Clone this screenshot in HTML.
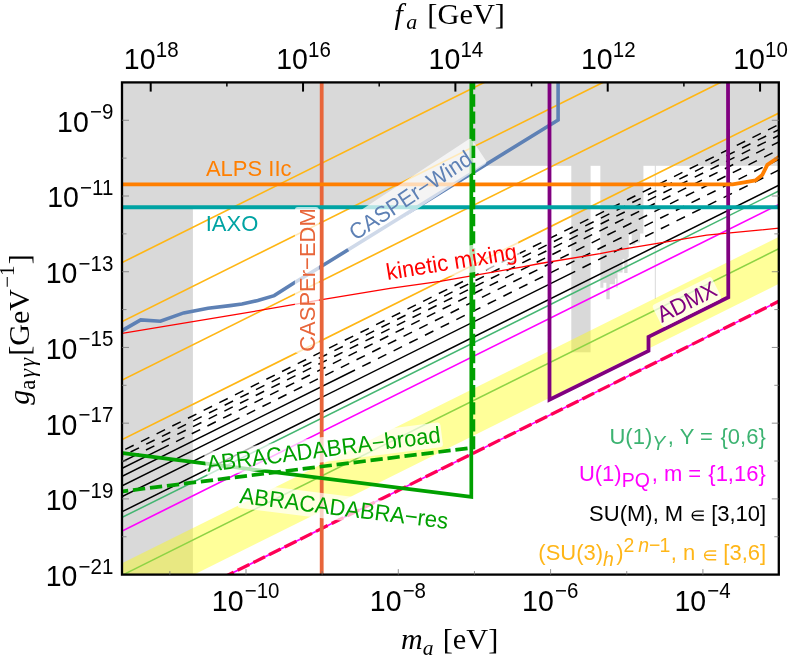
<!DOCTYPE html>
<html><head><meta charset="utf-8"><title>Axion parameter space</title>
<style>html,body{margin:0;padding:0;background:#fff}body{width:789px;height:659px;overflow:hidden;font-family:"Liberation Sans",sans-serif}</style>
</head><body>
<svg width="789" height="659" viewBox="0 0 789 659" style="display:block;will-change:transform" font-family="'Liberation Sans', sans-serif">
<rect x="0" y="0" width="789" height="659" fill="#fff"/>
<defs><clipPath id="cp"><rect x="122.0" y="82.4" width="656.8" height="492.20000000000005"/></clipPath></defs>
<g clip-path="url(#cp)">
<g fill="#d9d9d9" stroke="none">
<rect x="122.0" y="82.4" width="70.9" height="492.20000000000005"/>
<rect x="122.0" y="82.4" width="656.8" height="83.4"/>
<polygon points="192,160 192,207.3 417.1,207.3 484.2,165.8 484.2,160"/>
<rect x="571.3" y="160" width="19.300000000000068" height="192.3"/>
<polygon points="600.35,160 600.35,287.65 603.36,287.65 603.36,282.64 606.36,282.64 606.36,299.33 609.7,299.33 609.7,284.31 615.04,284.31 615.04,278.46 616.38,278.46 616.38,287.65 617.55,287.65 617.55,272.62 622.55,272.62 622.55,259.27 624.22,259.27 624.22,272.95 627.56,272.95 627.56,257.6 628.73,257.6 628.73,234.22 631.74,234.22 631.74,244.74 635.41,244.74 635.41,242.57 640.08,242.57 640.08,233.39 643.42,233.39 643.42,160"/>
<rect x="654.8" y="160" width="1" height="139"/>
</g>
<line x1="100" y1="528.39" x2="800" y2="180.35" stroke="#44b672" stroke-width="1.55"/>
<line x1="100" y1="586.19" x2="800" y2="238.15" stroke="#44b672" stroke-width="1.55"/>
<polygon points="100,574.29 800,226.25 800,273.35 100,621.39" fill="rgba(255,255,0,0.4)"/>
<line x1="100" y1="273.49" x2="800" y2="-74.55" stroke="#ffb614" stroke-width="1.65"/>
<line x1="100" y1="332.49" x2="800" y2="-15.55" stroke="#ffb614" stroke-width="1.65"/>
<line x1="100" y1="390.99" x2="800" y2="42.95" stroke="#ffb614" stroke-width="1.65"/>
<line x1="100" y1="450.59" x2="800" y2="102.55" stroke="#ffb614" stroke-width="1.65"/>
<line x1="125.26" y1="449.43" x2="800" y2="113.95" stroke="#000" stroke-width="1.5" stroke-dasharray="9.4 8.11"/>
<line x1="100" y1="467.19" x2="123.3" y2="455.60" stroke="#000" stroke-width="1.5"/>
<line x1="130.56" y1="451.99" x2="800" y2="119.15" stroke="#000" stroke-width="1.5" stroke-dasharray="9.4 8.11"/>
<line x1="100" y1="472.89" x2="138.7" y2="453.64" stroke="#000" stroke-width="1.5"/>
<line x1="145.96" y1="450.03" x2="800" y2="124.85" stroke="#000" stroke-width="1.5" stroke-dasharray="9.4 8.11"/>
<line x1="100" y1="479.39" x2="168.8" y2="445.18" stroke="#000" stroke-width="1.5"/>
<line x1="176.06" y1="441.57" x2="800" y2="131.35" stroke="#000" stroke-width="1.5" stroke-dasharray="9.4 8.11"/>
<line x1="100" y1="487.29" x2="239.5" y2="417.93" stroke="#000" stroke-width="1.5"/>
<line x1="246.76" y1="414.32" x2="800" y2="139.25" stroke="#000" stroke-width="1.5" stroke-dasharray="9.4 8.11"/>
<line x1="100" y1="496.79" x2="355" y2="370.00" stroke="#000" stroke-width="1.5"/>
<line x1="362.26" y1="366.39" x2="800" y2="148.75" stroke="#000" stroke-width="1.5" stroke-dasharray="9.4 8.11"/>
<line x1="100" y1="507.59" x2="575.2" y2="271.32" stroke="#000" stroke-width="1.5"/>
<line x1="582.46" y1="267.71" x2="800" y2="159.55" stroke="#000" stroke-width="1.5" stroke-dasharray="9.4 8.11"/>
<line x1="100" y1="522.69" x2="800" y2="174.65" stroke="#000" stroke-width="1.5"/>
<line x1="100" y1="541.99" x2="800" y2="193.95" stroke="#ff00ff" stroke-width="1.65"/>
<line x1="100" y1="638.79" x2="800" y2="290.75" stroke="#ff00ff" stroke-width="1.65"/>
<line x1="222" y1="578.13" x2="800" y2="290.75" stroke="#ff0055" stroke-width="3.3" stroke-dasharray="13 4.5"/>
<polyline fill="none" stroke="#ff0000" stroke-width="1.3" stroke-linejoin="round" points="122,333.3 235,314.7 321.9,299.6 390,288.4 440,281.3 521.3,267.1 540,263.5 600,253.6 623,249.2 706.7,235.2 779,228.2"/>
<polyline fill="none" stroke="#5e81b5" stroke-width="3.6" stroke-linejoin="miter" points="120.5,331.6 122.5,330.4 140.7,319.9 160.4,321.2 183.7,312.9 208,308.2 230,305.6 242,304 257.8,300.5 274.2,295.6 293.5,283.2 321.9,266 558.1,120.0 558.1,70"/>
<polyline fill="none" stroke="#800080" stroke-width="3.8" stroke-linejoin="miter" points="549.5,70 549.5,399.7 648.5,350.9 648.5,336.9 728.3,297.3 728.0,70"/>
<line x1="321.7" y1="70" x2="321.7" y2="590" stroke="#e8653a" stroke-width="3.8"/>
<polyline fill="none" stroke="#ff7f00" stroke-width="3.8" stroke-linejoin="round" points="110,184.4 732.5,184.3 744.1,182.4 755.7,180.3 762.2,175.1 767.3,164.8 779.5,156.6"/>
<line x1="110" y1="207.2" x2="790" y2="207.2" stroke="#00a3a3" stroke-width="3.9"/>
<polyline fill="none" stroke="#00a000" stroke-width="3.7" stroke-linejoin="miter" points="110,451.5 122.9,453.2 471.3,496.8 471.3,70"/>
<g transform="translate(410.6,195.4) rotate(-33.4)"><rect x="-82.0" y="-15.0" width="164" height="30" rx="3" fill="rgba(255,255,255,0.7)"/><text transform="translate(0,7.6) scale(1,1.045)" x="0" y="0" text-anchor="middle" font-size="21.6" fill="#5e81b5">CASPEr−Wind</text></g>
<polyline fill="none" stroke="#00a000" stroke-width="3.7" stroke-linejoin="miter" stroke-dasharray="12.3 4.8" points="116,492.2 122.9,491.3 473.4,447.6 473.4,70"/>
</g>
<g clip-path="url(#cp)">
<g transform="translate(306.9,280) rotate(-90)"><rect x="-73.0" y="-12.0" width="146" height="24" rx="3" fill="rgba(255,255,255,0.7)"/><text transform="translate(0,7.6) scale(1,1.045)" x="0" y="0" text-anchor="middle" font-size="22.0" fill="#e8653a">CASPEr−EDM</text></g>
<g transform="translate(451.5,262) rotate(-9.2)"><rect x="-69.0" y="-13.5" width="138" height="27" rx="3" fill="rgba(255,255,255,0.7)"/><text transform="translate(0,7.6) scale(1,1.045)" x="0" y="0" text-anchor="middle" font-size="22.0" fill="#ff0000">kinetic mixing</text></g>
<g transform="translate(686.9,302) rotate(-26.4)"><rect x="-33.0" y="-12.5" width="66" height="25" rx="3" fill="rgba(255,255,255,0.7)"/><text transform="translate(0,7.6) scale(1,1.045)" x="0" y="0" text-anchor="middle" font-size="22.0" fill="#800080">ADMX</text></g>
<g transform="translate(323.6,449.5) rotate(-7.2)"><rect x="-119.0" y="-12.5" width="238" height="25" rx="3" fill="rgba(255,255,255,0.7)"/><text transform="translate(0,7.6) scale(1,1.045)" x="0" y="0" text-anchor="middle" font-size="22.0" fill="#00a000">ABRACADABRA−broad</text></g>
<g transform="translate(344,508.4) rotate(7.1)"><rect x="-106.0" y="-12.5" width="212" height="25" rx="3" fill="rgba(255,255,255,0.7)"/><text transform="translate(0,7.6) scale(1,1.045)" x="0" y="0" text-anchor="middle" font-size="22.0" fill="#00a000">ABRACADABRA−res</text></g>
</g>
<text transform="translate(205.9,175.5) scale(1,1.045)" x="0" y="0" font-size="22.0" fill="#ff7f00">ALPS IIc</text>
<text transform="translate(205.7,231.4) scale(1,1.045)" x="0" y="0" font-size="22.0" fill="#00a3a3">IAXO</text>
<rect x="122.0" y="82.4" width="656.8" height="492.20000000000005" fill="none" stroke="#000" stroke-width="2.3"/>
<line x1="150.70" y1="82.4" x2="150.70" y2="91.60000000000001" stroke="#000" stroke-width="2"/>
<line x1="226.87" y1="82.4" x2="226.87" y2="86.4" stroke="#000" stroke-width="1.5"/>
<line x1="303.04" y1="82.4" x2="303.04" y2="91.60000000000001" stroke="#000" stroke-width="2"/>
<line x1="379.21" y1="82.4" x2="379.21" y2="86.4" stroke="#000" stroke-width="1.5"/>
<line x1="455.38" y1="82.4" x2="455.38" y2="91.60000000000001" stroke="#000" stroke-width="2"/>
<line x1="531.55" y1="82.4" x2="531.55" y2="86.4" stroke="#000" stroke-width="1.5"/>
<line x1="607.72" y1="82.4" x2="607.72" y2="91.60000000000001" stroke="#000" stroke-width="2"/>
<line x1="683.89" y1="82.4" x2="683.89" y2="86.4" stroke="#000" stroke-width="1.5"/>
<line x1="760.06" y1="82.4" x2="760.06" y2="91.60000000000001" stroke="#000" stroke-width="2"/>
<line x1="169.85" y1="574.6" x2="169.85" y2="571.1" stroke="#777" stroke-width="0.8"/>
<line x1="246.00" y1="574.6" x2="246.00" y2="569.1" stroke="#777" stroke-width="0.8"/>
<line x1="322.15" y1="574.6" x2="322.15" y2="571.1" stroke="#777" stroke-width="0.8"/>
<line x1="398.30" y1="574.6" x2="398.30" y2="569.1" stroke="#777" stroke-width="0.8"/>
<line x1="474.45" y1="574.6" x2="474.45" y2="571.1" stroke="#777" stroke-width="0.8"/>
<line x1="550.60" y1="574.6" x2="550.60" y2="569.1" stroke="#777" stroke-width="0.8"/>
<line x1="626.75" y1="574.6" x2="626.75" y2="571.1" stroke="#777" stroke-width="0.8"/>
<line x1="702.90" y1="574.6" x2="702.90" y2="569.1" stroke="#777" stroke-width="0.8"/>
<line x1="122.0" y1="536.74" x2="126.5" y2="536.74" stroke="#777" stroke-width="0.8"/>
<line x1="778.8" y1="536.74" x2="774.3" y2="536.74" stroke="#777" stroke-width="0.8"/>
<line x1="122.0" y1="498.88" x2="129.0" y2="498.88" stroke="#777" stroke-width="0.8"/>
<line x1="778.8" y1="498.88" x2="771.8" y2="498.88" stroke="#777" stroke-width="0.8"/>
<line x1="122.0" y1="461.02" x2="126.5" y2="461.02" stroke="#777" stroke-width="0.8"/>
<line x1="778.8" y1="461.02" x2="774.3" y2="461.02" stroke="#777" stroke-width="0.8"/>
<line x1="122.0" y1="423.16" x2="129.0" y2="423.16" stroke="#777" stroke-width="0.8"/>
<line x1="778.8" y1="423.16" x2="771.8" y2="423.16" stroke="#777" stroke-width="0.8"/>
<line x1="122.0" y1="385.30" x2="126.5" y2="385.30" stroke="#777" stroke-width="0.8"/>
<line x1="778.8" y1="385.30" x2="774.3" y2="385.30" stroke="#777" stroke-width="0.8"/>
<line x1="122.0" y1="347.44" x2="129.0" y2="347.44" stroke="#777" stroke-width="0.8"/>
<line x1="778.8" y1="347.44" x2="771.8" y2="347.44" stroke="#777" stroke-width="0.8"/>
<line x1="122.0" y1="309.58" x2="126.5" y2="309.58" stroke="#777" stroke-width="0.8"/>
<line x1="778.8" y1="309.58" x2="774.3" y2="309.58" stroke="#777" stroke-width="0.8"/>
<line x1="122.0" y1="271.72" x2="129.0" y2="271.72" stroke="#777" stroke-width="0.8"/>
<line x1="778.8" y1="271.72" x2="771.8" y2="271.72" stroke="#777" stroke-width="0.8"/>
<line x1="122.0" y1="233.86" x2="126.5" y2="233.86" stroke="#777" stroke-width="0.8"/>
<line x1="778.8" y1="233.86" x2="774.3" y2="233.86" stroke="#777" stroke-width="0.8"/>
<line x1="122.0" y1="196.00" x2="129.0" y2="196.00" stroke="#777" stroke-width="0.8"/>
<line x1="778.8" y1="196.00" x2="771.8" y2="196.00" stroke="#777" stroke-width="0.8"/>
<line x1="122.0" y1="158.14" x2="126.5" y2="158.14" stroke="#777" stroke-width="0.8"/>
<line x1="778.8" y1="158.14" x2="774.3" y2="158.14" stroke="#777" stroke-width="0.8"/>
<line x1="122.0" y1="120.28" x2="129.0" y2="120.28" stroke="#777" stroke-width="0.8"/>
<line x1="778.8" y1="120.28" x2="771.8" y2="120.28" stroke="#777" stroke-width="0.8"/>
<text transform="translate(151.20,69.40) scale(1,1.045)" x="0" y="0" text-anchor="middle" font-size="28.5" fill="#000">10<tspan font-size="20.5" dy="-11.96" dx="0.2">18</tspan></text>
<text transform="translate(303.54,69.40) scale(1,1.045)" x="0" y="0" text-anchor="middle" font-size="28.5" fill="#000">10<tspan font-size="20.5" dy="-11.96" dx="0.2">16</tspan></text>
<text transform="translate(455.88,69.40) scale(1,1.045)" x="0" y="0" text-anchor="middle" font-size="28.5" fill="#000">10<tspan font-size="20.5" dy="-11.96" dx="0.2">14</tspan></text>
<text transform="translate(608.22,69.40) scale(1,1.045)" x="0" y="0" text-anchor="middle" font-size="28.5" fill="#000">10<tspan font-size="20.5" dy="-11.96" dx="0.2">12</tspan></text>
<text transform="translate(760.56,69.40) scale(1,1.045)" x="0" y="0" text-anchor="middle" font-size="28.5" fill="#000">10<tspan font-size="20.5" dy="-11.96" dx="0.2">10</tspan></text>
<text transform="translate(245.60,610.50) scale(1,1.045)" x="0" y="0" text-anchor="middle" font-size="28.5" fill="#000">10<tspan font-size="20.5" dy="-11.96" dx="1.2">−10</tspan></text>
<text transform="translate(397.90,610.50) scale(1,1.045)" x="0" y="0" text-anchor="middle" font-size="28.5" fill="#000">10<tspan font-size="20.5" dy="-11.96" dx="1.2">−8</tspan></text>
<text transform="translate(550.20,610.50) scale(1,1.045)" x="0" y="0" text-anchor="middle" font-size="28.5" fill="#000">10<tspan font-size="20.5" dy="-11.96" dx="1.2">−6</tspan></text>
<text transform="translate(702.50,610.50) scale(1,1.045)" x="0" y="0" text-anchor="middle" font-size="28.5" fill="#000">10<tspan font-size="20.5" dy="-11.96" dx="1.2">−4</tspan></text>
<text transform="translate(113.30,131.68) scale(1,1.045)" x="0" y="0" text-anchor="end" font-size="28.5" fill="#000">10<tspan font-size="20.5" dy="-11.96" dx="1.2">−9</tspan></text>
<text transform="translate(113.30,207.40) scale(1,1.045)" x="0" y="0" text-anchor="end" font-size="28.5" fill="#000">10<tspan font-size="20.5" dy="-11.96" dx="1.2">−11</tspan></text>
<text transform="translate(113.30,283.12) scale(1,1.045)" x="0" y="0" text-anchor="end" font-size="28.5" fill="#000">10<tspan font-size="20.5" dy="-11.96" dx="1.2">−13</tspan></text>
<text transform="translate(113.30,358.84) scale(1,1.045)" x="0" y="0" text-anchor="end" font-size="28.5" fill="#000">10<tspan font-size="20.5" dy="-11.96" dx="1.2">−15</tspan></text>
<text transform="translate(113.30,434.56) scale(1,1.045)" x="0" y="0" text-anchor="end" font-size="28.5" fill="#000">10<tspan font-size="20.5" dy="-11.96" dx="1.2">−17</tspan></text>
<text transform="translate(113.30,510.28) scale(1,1.045)" x="0" y="0" text-anchor="end" font-size="28.5" fill="#000">10<tspan font-size="20.5" dy="-11.96" dx="1.2">−19</tspan></text>
<text transform="translate(113.30,586.00) scale(1,1.045)" x="0" y="0" text-anchor="end" font-size="28.5" fill="#000">10<tspan font-size="20.5" dy="-11.96" dx="1.2">−21</tspan></text>
<text fill="#000"><tspan x="394.46" y="23.50" font-family="'Liberation Serif', serif" font-style="italic" font-size="30">f</tspan><tspan x="406.34" y="29.00" font-family="'Liberation Serif', serif" font-style="italic" font-size="22">a</tspan><tspan x="427.34" y="23.50" font-family="'Liberation Serif', serif" font-style="normal" font-size="30.4">[GeV]</tspan></text>
<text fill="#000"><tspan x="401.12" y="649.30" font-family="'Liberation Serif', serif" font-style="italic" font-size="30">m</tspan><tspan x="422.76" y="654.80" font-family="'Liberation Serif', serif" font-style="italic" font-size="21.5">a</tspan><tspan x="442.75" y="649.30" font-family="'Liberation Serif', serif" font-style="normal" font-size="30.3">[eV]</tspan></text>
<g transform="translate(29.3,329.5) rotate(-90)"><text x="0" y="0" text-anchor="middle" font-family="'Liberation Serif', serif" font-size="30" fill="#000"><tspan font-style="italic">g</tspan><tspan font-size="22.5" dy="5.5" letter-spacing="2.0">a<tspan font-style="italic">γγ</tspan></tspan><tspan dy="-5.5" dx="0.3">[GeV</tspan><tspan font-size="21" dy="-15.5" dx="1.2">−1</tspan><tspan dy="15.5" dx="1.2">]</tspan></text></g>
<text transform="translate(765.80,443.8) scale(1,1.045)" x="0" y="0" text-anchor="end" font-size="22" fill="#3cb371">U(1)<tspan font-style="italic" font-size="19.5" dy="5.6">Y</tspan><tspan dy="-5.6" dx="2.6">, Y = </tspan><tspan dx="1.5">{0,6}</tspan></text>
<text transform="translate(765.80,481.3) scale(1,1.045)" x="0" y="0" text-anchor="end" font-size="22" fill="#ff00ff">U(1)<tspan font-size="19.5" dy="5.6">PQ</tspan><tspan dy="-5.6" dx="1.8">, m = </tspan><tspan dx="1.0">{1,16}</tspan></text>
<text transform="translate(766.17,520.5) scale(1,1.045)" x="0" y="0" text-anchor="end" font-size="22" fill="#000">[3,10]</text>
<path d="M703.8000000000001,511.1 H696.6 A4.4,4.4 0 0 0 696.6,519.9 H703.8000000000001 M692.6,515.5 H703.8000000000001" fill="none" stroke="#000" stroke-width="1.45"/>
<text transform="translate(589.11,520.5) scale(1,1.045)" x="0" y="0" font-size="22" fill="#000">SU(M), M</text>
<text transform="translate(766.17,560.3) scale(1,1.045)" x="0" y="0" text-anchor="end" font-size="22" fill="#ffb618">[3,6]</text>
<path d="M716.2,550.9 H709.0 A4.4,4.4 0 0 0 709.0,559.6999999999999 H716.2 M705.0,555.3 H716.2" fill="none" stroke="#ffb618" stroke-width="1.45"/>
<text transform="translate(538.34,560.3) scale(1,1.045)" x="0" y="0" font-size="22" fill="#ffb618">(SU(3)<tspan font-style="italic" font-size="19.5" dy="5.3">h</tspan><tspan dy="-5.3" dx="2.3">)</tspan><tspan font-size="19.5" dy="-8">2<tspan font-style="italic" dx="3.8">n</tspan>−<tspan dx="-1">1</tspan></tspan><tspan dy="8" dx="0.5">, n</tspan></text>
</svg>
</body></html>
